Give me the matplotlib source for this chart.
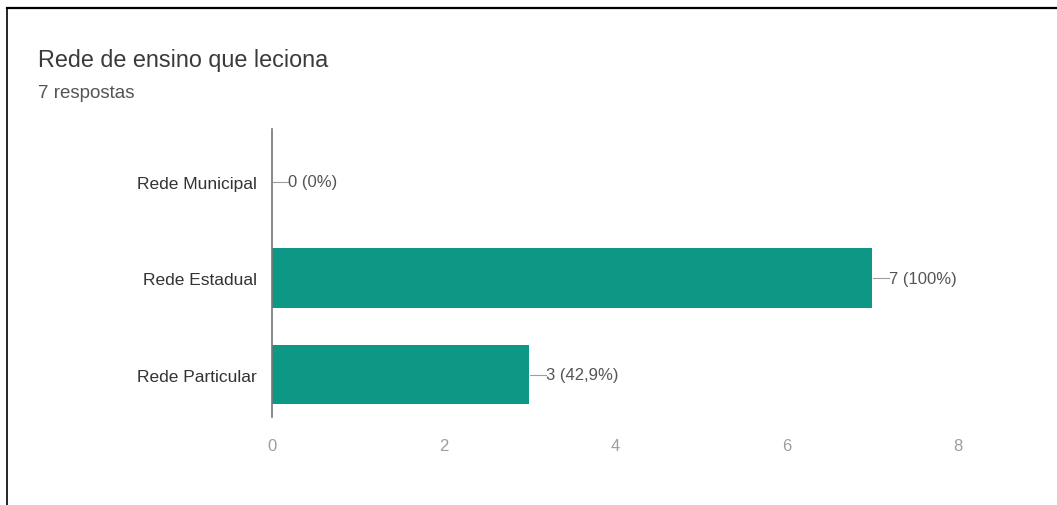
import numpy as np
import matplotlib.pyplot as plt
import matplotlib as mpl

mpl.rcParams['font.family'] = ['Liberation Sans', 'DejaVu Sans']

categories = ['Rede Municipal', 'Rede Estadual', 'Rede Particular']
counts = [0, 7, 3]
labels = ['0 (0%)', '7 (100%)', '3 (42,9%)']
xticks = [0, 2, 4, 6, 8]

bar_color = '#0d9886'

fig = plt.figure(figsize=(10.57, 5.06), dpi=100)
fig.patch.set_facecolor('white')

# black frame lines from the screenshot (top and left only)
fig.add_artist(plt.Line2D([0.0065, 1.0], [0.9825, 0.9825], color='black', lw=1.6,
                          transform=fig.transFigure))
fig.add_artist(plt.Line2D([0.0065, 0.0065], [0.0, 0.9825], color='black', lw=1.2,
                          transform=fig.transFigure))

fig.text(38 / 1057, 1 - 61 / 506, 'Rede de ensino que leciona', fontsize=16.8,
         color='#3a3a3a', va='center', ha='left')
fig.text(38 / 1057, 1 - 94 / 506, '7 respostas', fontsize=13.5,
         color='#555555', va='center', ha='left')

ax = fig.add_axes([272 / 1057, 1 - 418 / 506, (958 - 272) / 1057, (418 - 130) / 506])
y = np.arange(len(categories))
ax.barh(y, counts, height=0.62, color=bar_color)

for yi, c, lab in zip(y, counts, labels):
    ax.plot([c + 0.01, c + 0.19], [yi, yi], color='#9e9e9e', lw=0.8)
    ax.text(c + 0.19, yi, lab, va='center', ha='left', fontsize=12, color='#555555')

ax.set_xlim(0, 8)
ax.set_ylim(2.44, -0.55)
ax.set_yticks(y)
ax.set_yticklabels(categories, fontsize=12.5, color='#333333')
ax.set_xticks(xticks)
ax.set_xticklabels([str(t) for t in xticks], fontsize=12, color='#9e9e9e')
ax.tick_params(axis='both', length=0)
ax.tick_params(axis='y', pad=11)
ax.tick_params(axis='x', pad=15)
for s in ['top', 'right', 'bottom']:
    ax.spines[s].set_visible(False)
ax.spines['left'].set_color('#757575')
ax.spines['left'].set_linewidth(1.2)

fig.savefig('out.png', dpi=100)
